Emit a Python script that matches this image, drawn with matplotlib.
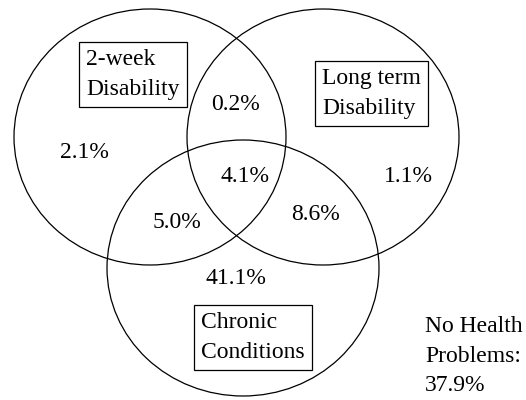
import matplotlib
matplotlib.use("Agg")
import matplotlib.pyplot as plt
from matplotlib.patches import Ellipse

plt.rcParams['font.family'] = ['Liberation Serif', 'DejaVu Serif']

# Sets (ellipse centres in pixel coords, labels)
set_names = ["2-week\nDisability", "Long term\nDisability", "Chronic\nConditions"]
set_centers = [(150, 137), (323, 137), (243, 268)]
set_label_pos = [(86, 74.5), (322, 93.5), (201, 337.5)]

# Region percentages
region_values = ["2.1%", "0.2%", "1.1%", "4.1%", "5.0%", "8.6%", "41.1%"]
region_pos = [(84, 153), (235, 105), (408, 177), (245, 177), (177, 222), (315, 215), (236, 279)]

outside_text = "No Health\nProblems:\n37.9%"

fig = plt.figure(figsize=(5.26, 4.00), dpi=100)
ax = fig.add_axes([0, 0, 1, 1])
ax.set_xlim(0, 526)
ax.set_ylim(400, 0)
ax.axis('off')

for (cx, cy) in set_centers:
    ax.add_patch(Ellipse((cx, cy), 272, 256, fill=False, edgecolor='black', linewidth=0.9))

fs = 17
for name, (x, y) in zip(set_names, set_label_pos):
    ax.text(x, y, name, ha='left', va='center', fontsize=fs, linespacing=1.6,
            bbox=dict(boxstyle='square,pad=0.3', facecolor='white', edgecolor='black', linewidth=0.9))

for val, (x, y) in zip(region_values, region_pos):
    ax.text(x, y, val, ha='center', va='center', fontsize=fs)

ax.text(425, 356, outside_text, ha='left', va='center', fontsize=fs, linespacing=1.55)

fig.savefig("out.png", dpi=100)
